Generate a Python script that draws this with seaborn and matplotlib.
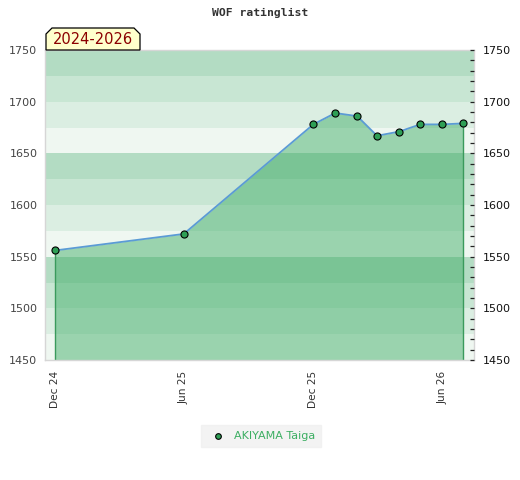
import seaborn as sns
import pandas as pd
import matplotlib.pyplot as plt
from matplotlib.patches import Polygon
from matplotlib.ticker import MultipleLocator

# monthly rating of the player
months = ["2024-12-01", "2025-06-01", "2025-12-01", "2026-01-01", "2026-02-01",
          "2026-03-01", "2026-04-01", "2026-05-01", "2026-06-01", "2026-07-01"]
ratings = [1556, 1572, 1678, 1689, 1686, 1667, 1671, 1678, 1678, 1679]
player = "AKIYAMA Taiga"
period = "2024-2026"
tick_dates = ["2024-12-01", "2025-06-01", "2025-12-01", "2026-06-01"]
tick_labels = ["Dec 24", "Jun 25", "Dec 25", "Jun 26"]

df = pd.DataFrame({"date": pd.to_datetime(months), "rating": ratings, "player": player})

sns.set_style("white")
plt.rcParams['font.family'] = ['DejaVu Sans']

fig = plt.figure(figsize=(5.2, 4.8), dpi=100)
ax = fig.add_axes([45 / 520, 1 - 360 / 480, 429 / 520, 310 / 480])

ymin, ymax = 1450, 1750
band_colors = ["#eff7f1", "#dbeee2", "#c8e6d3", "#b3dcc3"]
for i, lo in enumerate(range(ymin, ymax, 25)):
    ax.axhspan(lo, lo + 25, color=band_colors[i % 4], lw=0, zorder=0)

ax.fill_between(df["date"], df["rating"], ymin, color="#3bab63", alpha=0.47, lw=0, zorder=1)
ax.vlines([df["date"].iloc[0], df["date"].iloc[-1]], ymin,
          [df["rating"].iloc[0], df["rating"].iloc[-1]], color="#3a9a5c", lw=1, zorder=2)
sns.lineplot(data=df, x="date", y="rating", ax=ax, color="#5b9bd5", lw=1.3, zorder=3, legend=False)
sns.scatterplot(data=df, x="date", y="rating", ax=ax, color="#2e9e55", edgecolor="black",
                linewidth=0.8, s=26, zorder=4, label=player)

ax.set_xlim(pd.Timestamp("2024-11-17"), pd.Timestamp("2026-07-16"))
ax.set_ylim(ymin, ymax)
ax.set_xticks(pd.to_datetime(tick_dates))
ax.set_xticklabels(tick_labels, rotation=90, fontsize=7.6, color="#333333")
ax.set_yticks(range(ymin, ymax + 1, 50))
ax.tick_params(axis="y", length=0, labelsize=8, labelcolor="#444444", pad=5.5)
ax.tick_params(axis="x", length=0, pad=8)
ax.set_xlabel("")
ax.set_ylabel("")
for s in ax.spines.values():
    s.set_color("#d6d6d6")
    s.set_linewidth(1)

ax2 = ax.twinx()
ax2.set_ylim(ymin, ymax)
ax2.set_yticks(range(ymin, ymax + 1, 50))
ax2.yaxis.set_minor_locator(MultipleLocator(10))
ax2.tick_params(axis="y", which="both", direction="in", length=3, width=0.9, color="#222222",
                labelsize=8, labelcolor="#111111", pad=6.5)
for s in ax2.spines.values():
    s.set_visible(False)

fig.text(0.5, 1 - 13 / 480, "WOF ratinglist", ha="center", va="center", fontsize=8.2,
         family="DejaVu Sans Mono", weight="bold", color="#333333")

pts = [(46, 50), (46, 34), (52, 28), (134, 28), (140, 34), (140, 50)]
poly = Polygon([(x / 520, 1 - y / 480) for x, y in pts], closed=True, transform=fig.transFigure,
               facecolor="#ffffcc", edgecolor="black", lw=0.9, zorder=5)
fig.patches.append(poly)
fig.text(93 / 520, 1 - 40 / 480, period, ha="center", va="center", fontsize=10.5,
         color="#8b0000", zorder=6)

leg = ax.legend(loc="center", bbox_to_anchor=(261 / 520, 1 - 436 / 480),
                bbox_transform=fig.transFigure, frameon=True, fontsize=8,
                handletextpad=0.4, borderpad=0.5, markerscale=0.8)
leg.get_frame().set_facecolor("#f0f0f0")
leg.get_frame().set_edgecolor("#f0f0f0")
leg.get_frame().set_boxstyle("square", pad=0)
for t in leg.get_texts():
    t.set_color("#3cae62")

fig.savefig("out.png", dpi=100)
